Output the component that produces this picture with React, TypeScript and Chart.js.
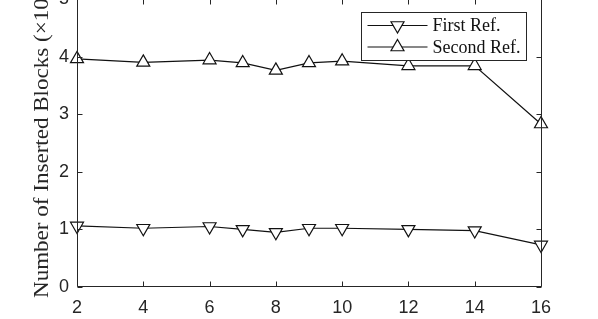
import React, { useEffect, useRef } from 'react';
import { Chart, registerables } from 'chart.js';

Chart.register(...registerables);

const xValues = [2, 4, 6, 7, 8, 9, 10, 12, 14, 16];
const firstRef = [1.06, 1.02, 1.05, 1.0, 0.95, 1.02, 1.02, 1.0, 0.98, 0.73];
const secondRef = [3.96, 3.9, 3.94, 3.89, 3.76, 3.89, 3.92, 3.84, 3.84, 2.83];
const seriesLabels = ['First Ref.', 'Second Ref.'];
const xTicks = [2, 4, 6, 8, 10, 12, 14, 16];
const yTicks = [0, 1, 2, 3, 4, 5];
const yTitle = 'Number of Inserted Blocks (\u00d710\u2074)';

const AXIS = '#262626';
const LINE = '#111111';

const framePlugin = {
  id: 'frame',
  afterDatasetsDraw(chart: any) {
    const { ctx, chartArea, scales } = chart;
    const { left, right, top, bottom } = chartArea;
    const L = Math.round(left) + 0.5;
    const R = Math.round(right) + 0.5;
    const T = Math.round(top) + 0.5;
    const B = Math.round(bottom) - 0.5;
    ctx.save();
    ctx.strokeStyle = AXIS;
    ctx.lineWidth = 1;
    ctx.beginPath();
    ctx.rect(L, T, R - L, B - T);
    const tl = 5;
    xTicks.forEach((v) => {
      const px = Math.round(scales.x.getPixelForValue(v)) + 0.5;
      ctx.moveTo(px, B);
      ctx.lineTo(px, B - tl);
      ctx.moveTo(px, T);
      ctx.lineTo(px, T + tl);
    });
    yTicks.forEach((v) => {
      const py = Math.round(scales.y.getPixelForValue(v)) + 0.5;
      ctx.moveTo(L, py);
      ctx.lineTo(L + tl, py);
      ctx.moveTo(R, py);
      ctx.lineTo(R - tl, py);
    });
    ctx.stroke();

    // y-axis title
    ctx.fillStyle = AXIS;
    ctx.font = '20px "Liberation Serif"';
    const base = ctx.measureText('Number of Inserted Blocks ').width;
    const stretch = 256 / base;
    ctx.translate(43, bottom + 11);
    ctx.rotate(-Math.PI / 2);
    ctx.scale(stretch, 1);
    ctx.textAlign = 'left';
    ctx.textBaseline = 'middle';
    ctx.fillText(yTitle, 0, 0);
    ctx.restore();

    // legend
    ctx.save();
    const bw = 165;
    const bh = 48;
    const bx = Math.round(right - 15.5 - bw) + 0.5;
    const by = Math.round(top + 13) + 0.5;
    ctx.fillStyle = '#ffffff';
    ctx.fillRect(bx, by, bw, bh);
    ctx.strokeStyle = AXIS;
    ctx.lineWidth = 1;
    ctx.strokeRect(bx, by, bw, bh);
    const rows = [by + 13, by + 34.5];
    chart.data.datasets.forEach((ds: any, i: number) => {
      const y = rows[i];
      ctx.strokeStyle = LINE;
      ctx.lineWidth = 1.2;
      ctx.beginPath();
      ctx.moveTo(bx + 6, y);
      ctx.lineTo(bx + 66, y);
      ctx.stroke();
      ctx.fillStyle = '#ffffff';
      const r = 7.5;
      const rot = ((ds.pointRotation || 0) * Math.PI) / 180;
      const cx = bx + 36;
      ctx.beginPath();
      let a = rot;
      ctx.moveTo(cx + Math.sin(a) * r, y - Math.cos(a) * r);
      a += (2 * Math.PI) / 3;
      ctx.lineTo(cx + Math.sin(a) * r, y - Math.cos(a) * r);
      a += (2 * Math.PI) / 3;
      ctx.lineTo(cx + Math.sin(a) * r, y - Math.cos(a) * r);
      ctx.closePath();
      ctx.fill();
      ctx.stroke();
      ctx.fillStyle = '#111111';
      ctx.font = '18px "Liberation Serif"';
      ctx.textAlign = 'left';
      ctx.textBaseline = 'middle';
      ctx.fillText(ds.label, bx + 71, y + 1);
    });
    ctx.restore();
  },
};

export default function App() {
  const ref = useRef<HTMLCanvasElement | null>(null);
  useEffect(() => {
    if (!ref.current) return;
    const mk = (vals: number[]) => xValues.map((x, i) => ({ x, y: vals[i] }));
    const common = {
      borderColor: LINE,
      borderWidth: 1.2,
      pointBackgroundColor: '#ffffff',
      pointBorderColor: LINE,
      pointBorderWidth: 1.2,
      pointRadius: 7.5,
      pointStyle: 'triangle',
      fill: false,
      tension: 0,
      clip: false as any,
    };
    const chart = new Chart(ref.current, {
      type: 'line',
      data: {
        datasets: [
          { ...common, label: seriesLabels[0], data: mk(firstRef), pointRotation: 180 },
          { ...common, label: seriesLabels[1], data: mk(secondRef), pointRotation: 0 },
        ],
      },
      options: {
        animation: false,
        responsive: false,
        layout: { padding: { top: 23, right: 57, bottom: 0, left: 0 } },
        plugins: { legend: { display: false }, tooltip: { enabled: false } },
        scales: {
          x: {
            type: 'linear',
            min: 2,
            max: 16,
            grid: { display: false, drawTicks: false },
            border: { display: false },
            afterBuildTicks: (s: any) => {
              s.ticks = xTicks.map((v) => ({ value: v }));
            },
            afterFit: (s: any) => {
              s.height = 32;
            },
            ticks: {
              padding: 10,
              color: AXIS,
              font: { family: '"Liberation Sans"', size: 18 },
              maxRotation: 0,
              autoSkip: false,
            },
          },
          y: {
            type: 'linear',
            min: 0,
            max: 5,
            grid: { display: false, drawTicks: false },
            border: { display: false },
            afterBuildTicks: (s: any) => {
              s.ticks = yTicks.map((v) => ({ value: v }));
            },
            afterFit: (s: any) => {
              s.width = 77;
            },
            ticks: {
              padding: 8,
              color: AXIS,
              font: { family: '"Liberation Sans"', size: 18 },
              autoSkip: false,
            },
          },
        },
      },
      plugins: [framePlugin],
    });
    return () => chart.destroy();
  }, []);
  return (
    <div style={{ position: 'fixed', left: 0, top: -24, width: 598, height: 343, background: '#fff' }}>
      <canvas ref={ref} width={598} height={343} style={{ display: 'block' }} />
    </div>
  );
}
